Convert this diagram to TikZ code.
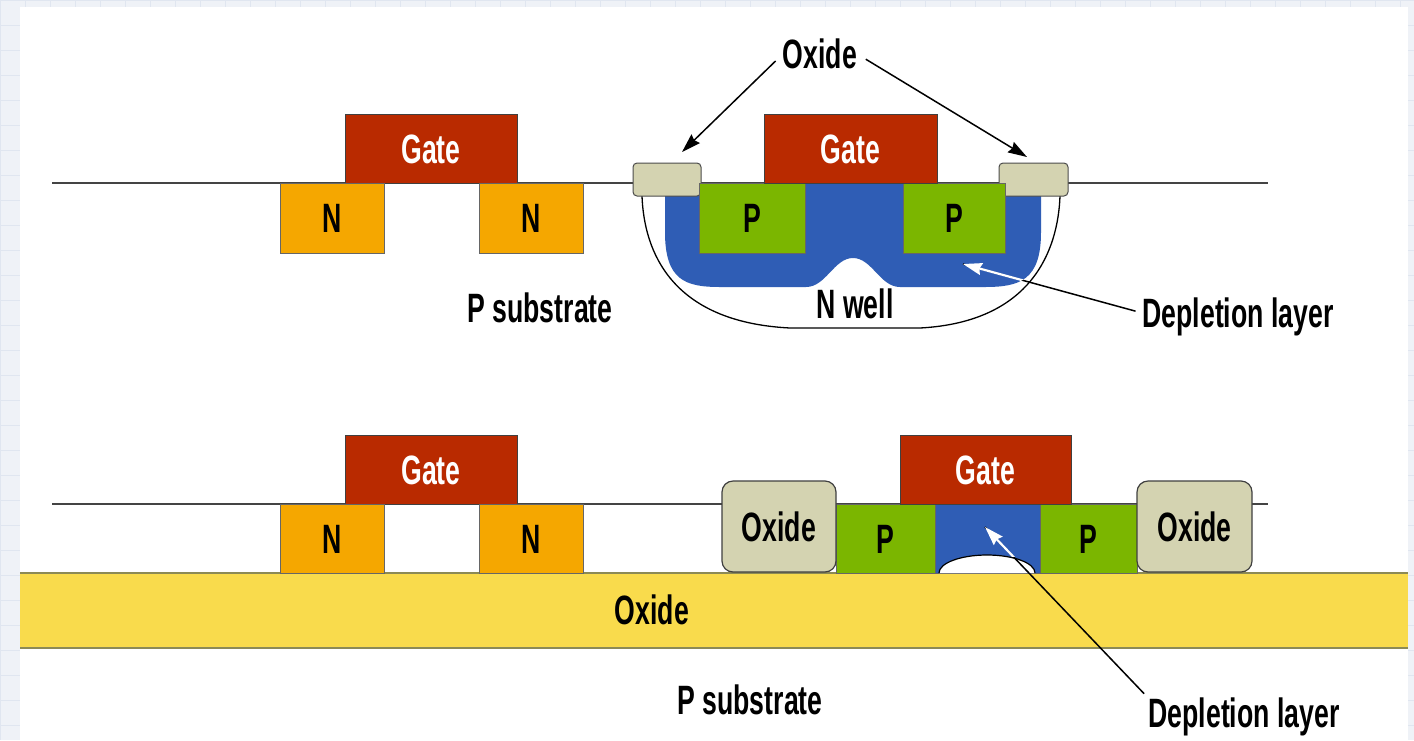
\documentclass[tikz,border=0pt]{standalone}
\usepackage{fontspec}
\usetikzlibrary{arrows.meta,calc}
\newfontfamily\labelfont[FakeStretch=0.65]{Liberation Sans}

\definecolor{gatered}{HTML}{B92A00}
\definecolor{norange}{HTML}{F5A700}
\definecolor{pgreen}{HTML}{7BB600}
\definecolor{depblue}{HTML}{2F5DB5}
\definecolor{oxgrey}{HTML}{D4D3B1}
\definecolor{bandyellow}{HTML}{F9DB4C}
\definecolor{bandedge}{HTML}{8C8A55}
\definecolor{paperbg}{HTML}{EFF2F7}
\definecolor{paperline}{HTML}{E0E6F0}
\definecolor{edgegrey}{HTML}{444444}

% outline of the depletion region in the N-well device
\newcommand{\wellblue}{(699,183) -- (1005,183) -- (1005,196) -- (1041,196) -- (1041,232)
  .. controls (1041,280) and (1020,287) .. (985,287) -- (900,287)
  .. controls (880,287) and (872,258) .. (853,258)
  .. controls (834,258) and (826,287) .. (806,287) -- (720,287)
  .. controls (685,287) and (665,280) .. (665,232) -- (665,196) -- (699,196) -- cycle}

\tikzset{
  txt/.style={font=\labelfont\bfseries\fontsize{41}{44}\selectfont,
    text height=29.5pt, text depth=0pt, inner sep=0pt},
  gatebox/.style={txt, fill=gatered, draw=black!75, line width=1pt, text=white,
    minimum width=172pt, minimum height=69pt},
  nbox/.style={txt, fill=norange, draw=black!60, line width=1pt,
    minimum width=104pt, minimum height=70pt},
  pbox/.style={txt, fill=pgreen, draw=black!60, line width=1pt, minimum height=70pt},
  oxcap/.style={fill=oxgrey, draw=black!70, line width=1pt, rounded corners=4pt,
    minimum height=33pt, inner sep=0pt},
  oxbox/.style={txt, fill=oxgrey, draw=black!75, line width=1.2pt, rounded corners=11pt,
    minimum width=114pt, minimum height=91pt},
  surface/.style={draw=edgegrey, line width=1.6pt},
  pointer/.style={draw=black, line width=1.5pt, -{Stealth[length=19pt,width=12pt,inset=2pt]}},
  plainline/.style={draw=black, line width=1.5pt},
  whitepointer/.style={draw=white, line width=2.2pt,
    -{Stealth[length=19pt,width=12pt,inset=2pt,fill=white]}}
}

\begin{document}
\begin{tikzpicture}[x=1pt, y=-1pt]
\useasboundingbox (0,0) rectangle (1414,740);

% graph paper behind the sheet
\fill[paperbg] (0,0) rectangle (1414,740);
\foreach \g in {0,25,...,750} \draw[paperline, line width=1pt] (0,\g) -- (1414,\g);
\foreach \g in {0,25,...,1425} \draw[paperline, line width=1pt] (\g,0) -- (\g,740);
\fill[white] (20,7) rectangle (1408,740);

% ---------- upper cross-section: bulk CMOS ----------
\draw[surface] (52,183) -- (1268,183);

% N well
\draw[black, line width=1.3pt, fill=white] (642,196)
  .. controls (644,250) and (670,322) .. (790,328) -- (920,328)
  .. controls (1032,322) and (1058,250) .. (1060,196);

% depletion layer
\fill[depblue] \wellblue;

\node[oxcap, minimum width=68pt] (ocl) at (667,179.5) {};
\node[oxcap, minimum width=69pt] (ocr) at (1033.5,179.5) {};

\node[gatebox] (g1) at (431,149) {Gate};
\node[nbox] (n1) at (332,218) {N};
\node[nbox] (n2) at (531,218) {N};

\node[pbox, minimum width=106pt] (p1) at (752,218) {P};
\node[pbox, minimum width=102pt] (p2) at (954,218) {P};
\node[gatebox, minimum width=173pt] (g2) at (850.5,149) {Gate};

\node[txt] (oxlab) at (820,54) {Oxide};
\node[txt] (psub1) at (540,307.5) {P substrate};
\node[txt] (nwell) at (855,304) {N well};
\node[txt] (dl1) at (1238,313) {Depletion layer};

\coordinate (ocltip) at (682,152);
\coordinate (ocrtip) at (1027,157);
\coordinate (dtip1) at (963,264);

\draw[pointer, shorten <=10pt] (oxlab.west) -- (ocltip);
\draw[pointer, shorten <=10pt] (oxlab.east) -- (ocrtip);
\draw[plainline, shorten <=7pt] (dl1.west) -- (dtip1);
\begin{scope}
  \clip \wellblue;
  \draw[whitepointer, shorten <=7pt] (dl1.west) -- (dtip1);
\end{scope}

% ---------- lower cross-section: silicon on insulator ----------
\draw[surface] (52,504) -- (1268,504);

% buried oxide
\fill[bandyellow] (20,573) rectangle (1408,648);
\draw[bandedge, line width=2.2pt] (20,573) -- (1408,573);
\draw[bandedge, line width=2.2pt] (20,648) -- (1408,648);
\node[txt] (box) at (652,610) {Oxide};

\node[gatebox] (g3) at (431,469.5) {Gate};
\node[nbox, minimum height=69pt] (n3) at (332,538.5) {N};
\node[nbox, minimum height=69pt] (n4) at (531,538.5) {N};

% fully depleted body under the gate, with its undepleted pocket
\node[fill=depblue, draw=black!60, line width=1pt, minimum width=105pt,
  minimum height=69pt, inner sep=0pt] (body) at (987.5,538.5) {};
\fill[white] (939,573) arc[start angle=180, end angle=360, x radius=48, y radius=18] -- cycle;
\draw[black, line width=1.2pt] (939,573) arc[start angle=180, end angle=360, x radius=48, y radius=18];

\node[pbox, minimum width=99pt, minimum height=69pt] (p3) at (885.5,538.5) {P};
\node[pbox, minimum width=97pt, minimum height=69pt] (p4) at (1088.5,538.5) {P};
\node[gatebox, minimum width=171pt] (g4) at (985.5,469.5) {Gate};
\node[oxbox] (oxl) at (779,526.5) {Oxide};
\node[oxbox, minimum width=115pt] (oxr) at (1194.5,526.5) {Oxide};

\node[txt] (psub2) at (750,700) {P substrate};
\node[txt] (dl2) at (1244,713) {Depletion layer};

\coordinate (dtip2) at (985,527);
\draw[plainline, shorten <=6pt] (dl2.north west) -- (dtip2);
\begin{scope}
  \clip (935,504) rectangle (1040,556);
  \draw[whitepointer, shorten <=6pt] (dl2.north west) -- (dtip2);
\end{scope}
\end{tikzpicture}
\end{document}
